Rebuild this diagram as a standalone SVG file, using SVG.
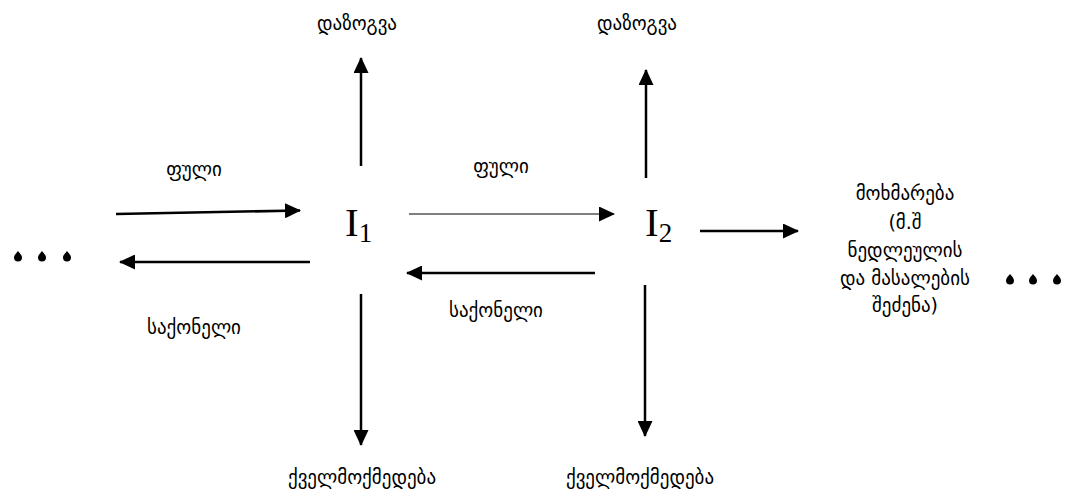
<svg xmlns="http://www.w3.org/2000/svg" width="1073" height="493" viewBox="0 0 1073 493">
<defs>
<marker id="ah" markerWidth="16" markerHeight="15" refX="15" refY="7.5" orient="auto" markerUnits="userSpaceOnUse">
<path d="M0,0 L16,7.5 L0,15 Z" fill="#000"/>
</marker>
<path id="dot" d="M0,-5 C1.5,-3 4,-1 4,1.5 A4,4 0 0 1 -4,1.5 C-4,-1 -1.5,-3 0,-5 Z" fill="#000"/>
<style>
.geo{font-family:"DejaVu Sans","Noto Sans",sans-serif;font-size:19px;fill:#000;text-anchor:middle}
.sym{font-family:"Liberation Serif","Times New Roman",serif;fill:#000}
.ln{stroke:#000;stroke-width:2.5;fill:none}
.thin{stroke:#000;stroke-width:1.2;fill:none}
</style>
</defs>
<rect width="1073" height="493" fill="#fff"/>
<g id="connectors">
<line class="ln" x1="361" y1="166" x2="361" y2="58" marker-end="url(#ah)"/>
<line class="ln" x1="646" y1="178" x2="646" y2="70" marker-end="url(#ah)"/>
<line class="ln" x1="361" y1="294" x2="361" y2="445" marker-end="url(#ah)"/>
<line class="ln" x1="645" y1="285" x2="645" y2="436" marker-end="url(#ah)"/>
<line class="ln" x1="116" y1="214" x2="300" y2="210.5" marker-end="url(#ah)"/>
<line class="ln" x1="310" y1="262" x2="120" y2="262" marker-end="url(#ah)"/>
<line class="thin" x1="409" y1="214" x2="614" y2="214" marker-end="url(#ah)"/>
<line class="ln" x1="595" y1="273" x2="407" y2="273" marker-end="url(#ah)"/>
<line class="ln" x1="700" y1="231" x2="798" y2="231" marker-end="url(#ah)"/>
</g>
<g id="node-I1"><text class="sym" x="345" y="236" font-size="41">I<tspan font-size="27" dy="6">1</tspan></text></g>
<g id="node-I2"><text class="sym" x="645" y="236" font-size="41">I<tspan font-size="27" dy="6">2</tspan></text></g>
<g id="label-save1"><text class="geo" x="357" y="30">დაზოგვა</text></g>
<g id="label-save2"><text class="geo" x="637" y="30">დაზოგვა</text></g>
<g id="label-money1"><text class="geo" x="194" y="176">ფული</text></g>
<g id="label-money2"><text class="geo" x="501" y="173">ფული</text></g>
<g id="label-goods1"><text class="geo" x="194" y="334">საქონელი</text></g>
<g id="label-goods2"><text class="geo" x="496" y="317">საქონელი</text></g>
<g id="label-charity1"><text class="geo" x="362" y="484">ქველმოქმედება</text></g>
<g id="label-charity2"><text class="geo" x="640" y="484">ქველმოქმედება</text></g>
<g id="node-consumption">
<text class="geo"><tspan x="905" y="200">მოხმარება</tspan><tspan x="905" y="229">(მ.შ</tspan><tspan x="905" y="257">ნედლეულის</tspan><tspan x="905" y="285">და მასალების</tspan><tspan x="905" y="312">შეძენა)</tspan></text>
</g>
<g id="dots-left">
<use href="#dot" x="18" y="256"/><use href="#dot" x="42" y="256"/><use href="#dot" x="67" y="256"/>
</g>
<g id="dots-right">
<use href="#dot" x="1010" y="279"/><use href="#dot" x="1033" y="279"/><use href="#dot" x="1057" y="279"/>
</g>
</svg>
